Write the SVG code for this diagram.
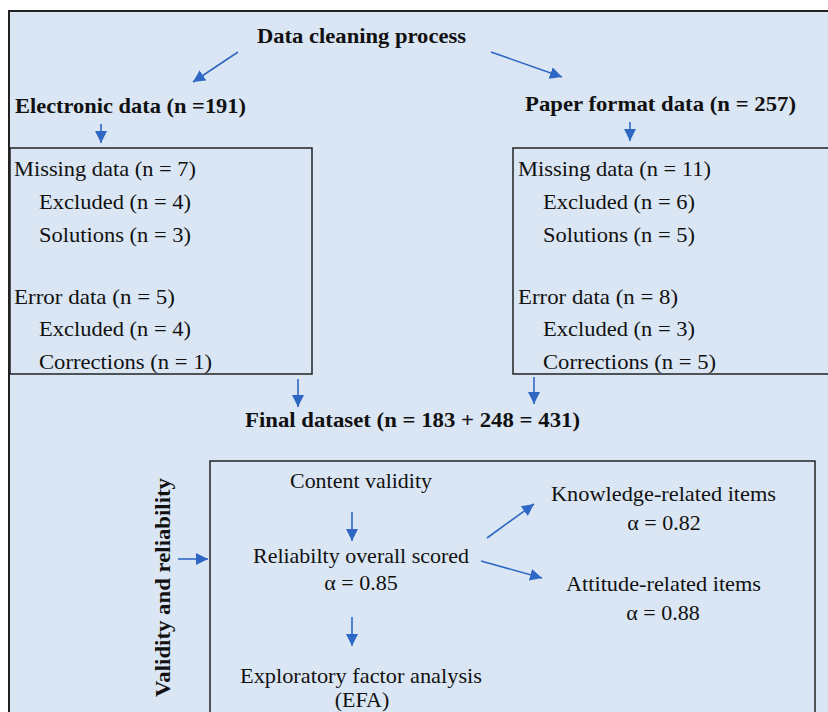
<svg xmlns="http://www.w3.org/2000/svg" width="828" height="712" viewBox="0 0 828 712">
<defs>
<style>
.t{font-family:"Liberation Serif","Times New Roman",serif;font-size:22px;fill:#111;}
.b{font-weight:bold;}
.box{fill:none;stroke:#222;stroke-width:1.5;}
.c{stroke:#2f68c4;stroke-width:1.6;fill:none;}
</style>
<marker id="ah" viewBox="0 0 10 10" refX="10" refY="5" markerWidth="12" markerHeight="12" markerUnits="userSpaceOnUse" orient="auto">
<path d="M0,0 L10,5 L0,10 z" fill="#2f68c4"/>
</marker>
</defs>
<rect x="0" y="0" width="828" height="712" fill="#ffffff"/>
<rect x="9" y="11" width="840" height="720" fill="#dae6f4" stroke="#222" stroke-width="2"/>

<g id="title"><text class="t b" x="257" y="43" textLength="209" lengthAdjust="spacingAndGlyphs">Data cleaning process</text></g>
<g id="electronic"><text class="t b" x="15" y="113" textLength="231" lengthAdjust="spacingAndGlyphs">Electronic data (n =191)</text></g>
<g id="paper"><text class="t b" x="525" y="111" textLength="271" lengthAdjust="spacingAndGlyphs">Paper format data (n = 257)</text></g>

<g id="leftbox">
<rect class="box" x="10" y="148" width="302" height="226"/>
<text class="t" x="14" y="176" textLength="182" lengthAdjust="spacingAndGlyphs">Missing data (n = 7)</text>
<text class="t" x="39" y="209" textLength="152" lengthAdjust="spacingAndGlyphs">Excluded (n = 4)</text>
<text class="t" x="39" y="242" textLength="152" lengthAdjust="spacingAndGlyphs">Solutions (n = 3)</text>
<text class="t" x="14" y="304" textLength="161" lengthAdjust="spacingAndGlyphs">Error data (n = 5)</text>
<text class="t" x="39" y="336" textLength="152" lengthAdjust="spacingAndGlyphs">Excluded (n = 4)</text>
<text class="t" x="39" y="369" textLength="173" lengthAdjust="spacingAndGlyphs">Corrections (n = 1)</text>
</g>

<g id="rightbox">
<rect class="box" x="513" y="148" width="330" height="226"/>
<text class="t" x="518" y="176" textLength="193" lengthAdjust="spacingAndGlyphs">Missing data (n = 11)</text>
<text class="t" x="543" y="209" textLength="152" lengthAdjust="spacingAndGlyphs">Excluded (n = 6)</text>
<text class="t" x="543" y="242" textLength="152" lengthAdjust="spacingAndGlyphs">Solutions (n = 5)</text>
<text class="t" x="518" y="304" textLength="160" lengthAdjust="spacingAndGlyphs">Error data (n = 8)</text>
<text class="t" x="543" y="336" textLength="152" lengthAdjust="spacingAndGlyphs">Excluded (n = 3)</text>
<text class="t" x="543" y="369" textLength="173" lengthAdjust="spacingAndGlyphs">Corrections (n = 5)</text>
</g>

<g id="final"><text class="t b" x="245" y="427" textLength="335" lengthAdjust="spacingAndGlyphs">Final dataset (n = 183 + 248 = 431)</text></g>

<g id="vlabel"><text class="t b" transform="translate(170,697) rotate(-90)" x="0" y="0" textLength="219" lengthAdjust="spacingAndGlyphs" style="font-size:22px">Validity and reliability</text></g>

<g id="validitybox">
<rect class="box" x="210" y="461" width="605" height="280"/>
</g>
<g id="content"><text class="t" x="290" y="488" textLength="142" lengthAdjust="spacingAndGlyphs">Content validity</text></g>
<g id="reliability">
<text class="t" x="253" y="563" textLength="216" lengthAdjust="spacingAndGlyphs">Reliabilty overall scored</text>
<text class="t" x="361" y="590" text-anchor="middle">α = 0.85</text>
</g>
<g id="efa">
<text class="t" x="240" y="683" textLength="242" lengthAdjust="spacingAndGlyphs">Exploratory factor analysis</text>
<text class="t" x="362" y="707" text-anchor="middle">(EFA)</text>
</g>
<g id="knowledge">
<text class="t" x="551" y="501" textLength="225" lengthAdjust="spacingAndGlyphs">Knowledge-related items</text>
<text class="t" x="664" y="530" text-anchor="middle">α = 0.82</text>
</g>
<g id="attitude">
<text class="t" x="566" y="591" textLength="195" lengthAdjust="spacingAndGlyphs">Attitude-related items</text>
<text class="t" x="663" y="620" text-anchor="middle">α = 0.88</text>
</g>

<g id="connectors">
<line class="c" x1="238" y1="52" x2="193" y2="82" marker-end="url(#ah)"/>
<line class="c" x1="491" y1="52" x2="562" y2="77" marker-end="url(#ah)"/>
<line class="c" x1="101" y1="124" x2="101" y2="143" marker-end="url(#ah)"/>
<line class="c" x1="630" y1="122" x2="630" y2="141" marker-end="url(#ah)"/>
<line class="c" x1="298" y1="379" x2="298" y2="407" marker-end="url(#ah)"/>
<line class="c" x1="534" y1="377" x2="534" y2="404" marker-end="url(#ah)"/>
<line class="c" x1="178" y1="559" x2="208" y2="559" marker-end="url(#ah)"/>
<line class="c" x1="352" y1="512" x2="352" y2="541" marker-end="url(#ah)"/>
<line class="c" x1="352" y1="617" x2="352" y2="646" marker-end="url(#ah)"/>
<line class="c" x1="487" y1="538" x2="534" y2="504" marker-end="url(#ah)"/>
<line class="c" x1="481" y1="561" x2="542" y2="578" marker-end="url(#ah)"/>
</g>
</svg>
